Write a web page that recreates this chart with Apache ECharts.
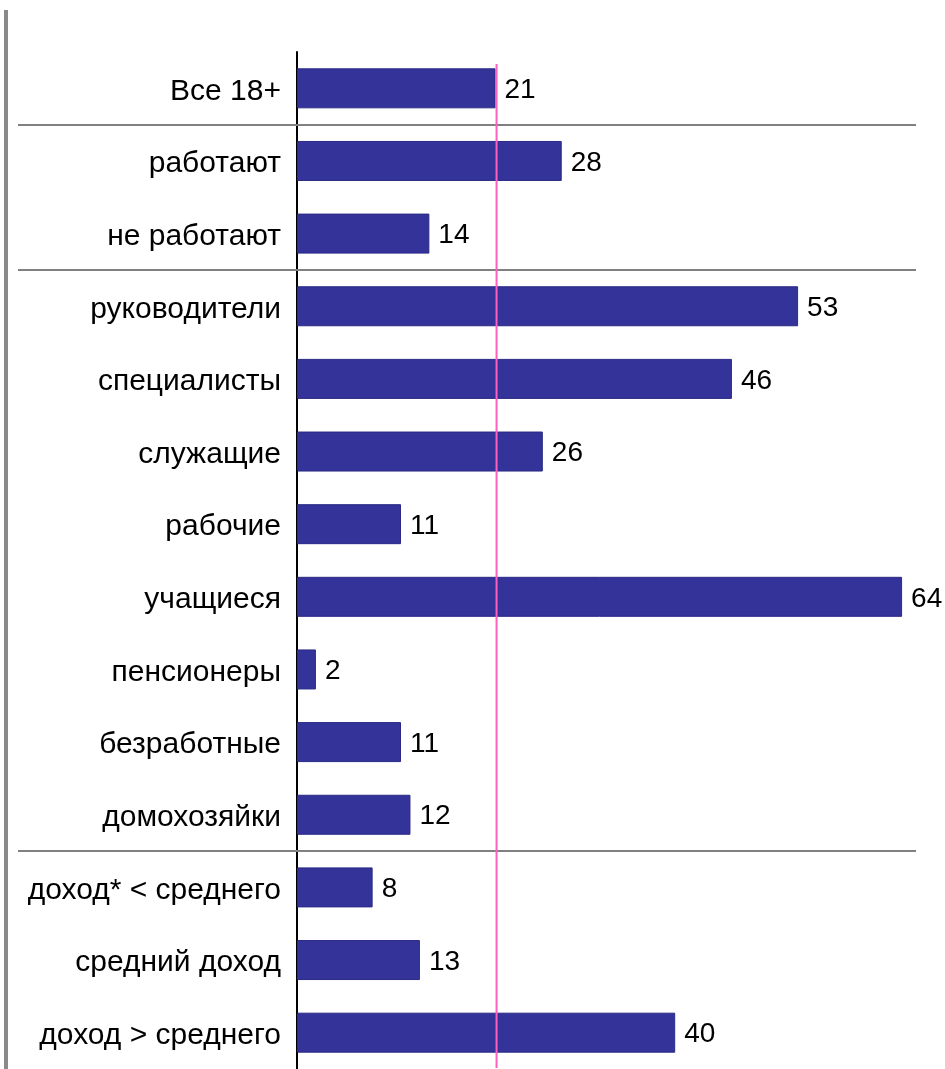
<!DOCTYPE html>
<html>
<head>
<meta charset="utf-8">
<script src="https://cdn.jsdelivr.net/npm/echarts@6/dist/echarts.min.js"></script>
<style>
  html, body { margin: 0; padding: 0; background: #ffffff; }
  #chart { width: 945px; height: 1069px; }
</style>
</head>
<body>
<div id="chart"></div>
<script>
// Groups, top to bottom
const categories = [
  'Все 18+',
  'работают',
  'не работают',
  'руководители',
  'специалисты',
  'служащие',
  'рабочие',
  'учащиеся',
  'пенсионеры',
  'безработные',
  'домохозяйки',
  'доход* < среднего',
  'средний доход',
  'доход > среднего'
];
// Share, %
const values = [21, 28, 14, 53, 46, 26, 11, 64, 2, 11, 12, 8, 13, 40];
// Overall value used as the reference line
const referenceValue = 21;
// Group dividers are drawn after these category indices
const dividerAfter = [0, 2, 10];

const FONT = '"Liberation Sans", Arial, Helvetica, sans-serif';
const chart = echarts.init(document.getElementById('chart'), null, { renderer: 'canvas' });

chart.setOption({
  backgroundColor: '#ffffff',
  animation: false,
  grid: { left: 297, right: 24, top: 52, bottom: -1, containLabel: false },
  xAxis: {
    type: 'value',
    min: 0,
    max: 66,
    show: false
  },
  yAxis: {
    type: 'category',
    data: categories,
    inverse: true,
    axisLine: { show: true, lineStyle: { color: '#000000', width: 2 } },
    axisTick: { show: false },
    splitLine: { show: false },
    axisLabel: {
      margin: 16,
      formatter: function (v) { return '{c|' + v + '}'; },
      rich: {
        c: {
          color: '#000000',
          fontFamily: FONT,
          fontSize: 30,
          padding: [6, 0, 0, 0]
        }
      }
    }
  },
  series: [{
    type: 'bar',
    data: values,
    barWidth: 40,
    z: 3,
    itemStyle: { color: '#333399', borderColor: '#2a2a85', borderWidth: 1 },
    label: {
      show: true,
      position: 'right',
      distance: 9,
      offset: [0, 2],
      color: '#000000',
      fontFamily: FONT,
      fontSize: 28
    }
  }]
});

function drawDecorations() {
  const graphics = [];
  // left frame line
  graphics.push({
    type: 'rect',
    shape: { x: 4, y: 10, width: 4, height: 1069 },
    style: { fill: '#8a8a8a' },
    z: 10
  });
  // group dividers between category bands
  dividerAfter.forEach(function (i) {
    const y1 = chart.convertToPixel({ yAxisIndex: 0 }, i);
    const y2 = chart.convertToPixel({ yAxisIndex: 0 }, i + 1);
    const y = Math.round((y1 + y2) / 2);
    graphics.push({
      type: 'line',
      shape: { x1: 18, y1: y, x2: 916, y2: y },
      style: { stroke: '#808080', lineWidth: 2 },
      z: 10
    });
  });
  // reference line at the overall value
  const x = chart.convertToPixel({ xAxisIndex: 0 }, referenceValue) + 1;
  graphics.push({
    type: 'line',
    shape: { x1: x, y1: 64, x2: x, y2: 1068 },
    style: { stroke: '#ff5fc0', lineWidth: 2 },
    z: 20
  });
  chart.setOption({ graphic: graphics });
}
drawDecorations();
</script>
</body>
</html>
